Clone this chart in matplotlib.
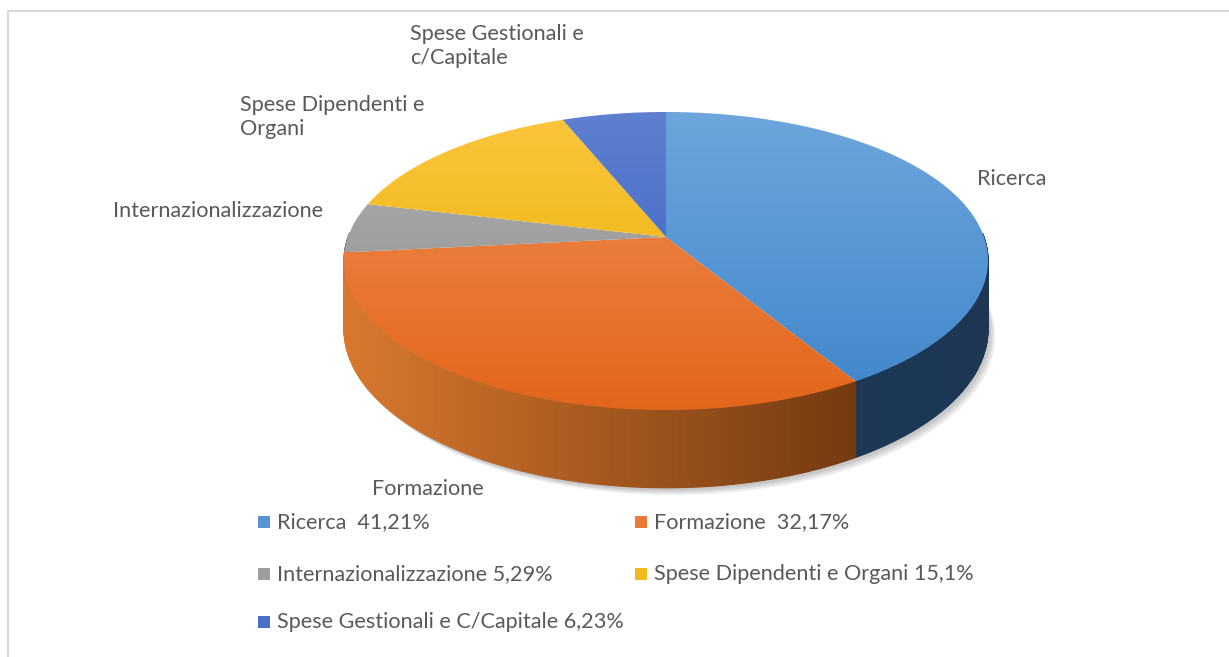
import numpy as np
import matplotlib.pyplot as plt
from matplotlib.patches import Polygon, Rectangle

# data
labels = ['Ricerca', 'Formazione', 'Internazionalizzazione',
          'Spese Dipendenti e Organi', 'Spese Gestionali e C/Capitale']
values = [41.21, 32.17, 5.29, 15.1, 6.23]
legend_texts = ['Ricerca  41,21%', 'Formazione  32,17%', 'Internazionalizzazione 5,29%',
                'Spese Dipendenti e Organi 15,1%', 'Spese Gestionali e C/Capitale 6,23%']
slice_labels = ['Ricerca', 'Formazione', 'Internazionalizzazione',
                'Spese Dipendenti e\nOrgani', 'Spese Gestionali e\nc/Capitale']

# top gradient (top colour, bottom colour), side colours (left, right)
top_cols = [('#6ea6dc', '#3f86cb'), ('#f08e55', '#e2661a'), ('#b0b0b0', '#8c8c8c'),
            ('#fcc63e', '#e6ae00'), ('#6080d0', '#2f5fbf')]
side_cols = [('#1f3c5c', '#1c3654'), ('#d8782e', '#5a2a08'), ('#7a7a7a', '#5a5a5a'),
             ('#b08000', '#8a6400'), ('#23457f', '#1c3566')]
txt_col = '#595959'
FONT = 'Lato'
FS = 15.6

# geometry of the 3D pie (pixels)
cx, cy = 666, 237
A, B, K = 318, 149, 0.161
DEPTH = 67


def rim(t):
    s = 1 - K * np.sin(t)
    return cx + A * s * np.cos(t), cy - B * s * np.sin(t), s


def hexrgb(h):
    h = h.lstrip('#')
    return np.array([int(h[i:i + 2], 16) / 255 for i in (0, 2, 4)])


fig = plt.figure(figsize=(12.29, 6.57), dpi=100)
ax = fig.add_axes([0, 0, 1, 1])
ax.set_xlim(0, 1229)
ax.set_ylim(657, 0)
ax.axis('off')

# frame
ax.plot([8, 8, 1229], [657, 11, 11], color='#d9d9d9', lw=1.5, zorder=0)

fracs = np.array(values) / sum(values)
starts = np.pi / 2 - 2 * np.pi * np.concatenate([[0], np.cumsum(fracs)[:-1]])
ends = starts - 2 * np.pi * fracs

# soft shadow under the rim
tt = np.linspace(np.pi * 0.02, -np.pi * 1.02, 200)
xs, ys, ss = rim(tt)
for w in [7, 5, 3]:
    px = np.concatenate([xs + w, xs[::-1]])
    py = np.concatenate([ys + ss * DEPTH + w, (ys + ss * DEPTH)[::-1] - 10])
    ax.add_patch(Polygon(np.column_stack([px, py]), closed=True, color='#000000',
                         alpha=0.08, lw=0, zorder=1))

# side strips
strips = []
for i in range(len(values)):
    n = max(int(abs(starts[i] - ends[i]) / 0.01), 2)
    t = np.linspace(starts[i], ends[i], n + 1)
    c0, c1 = hexrgb(side_cols[i][0]), hexrgb(side_cols[i][1])
    for j in range(n):
        ta, tb = t[j], t[j + 1]
        tm = 0.5 * (ta + tb)
        if np.sin(tm) > 0.03:
            continue
        xa, ya, sa = rim(ta)
        xb, yb, sb = rim(tb)
        f = np.clip((0.5 * (xa + xb) - 348) / (984 - 348), 0, 1)
        col = c0 * (1 - f) + c1 * f
        poly = [(xa, ya), (xb, yb), (xb, yb + sb * DEPTH), (xa, ya + sa * DEPTH)]
        strips.append((np.sin(tm), poly, col))
strips.sort(key=lambda s: -s[0])
for _, poly, col in strips:
    ax.add_patch(Polygon(poly, closed=True, facecolor=col, edgecolor=col, lw=0.8, zorder=2))

# top faces with vertical gradient
for i in range(len(values)):
    t = np.linspace(starts[i], ends[i], 200)
    xs, ys, _ = rim(t)
    px = np.concatenate([[cx], xs])
    py = np.concatenate([[cy], ys])
    patch = Polygon(np.column_stack([px, py]), closed=True, facecolor='none',
                    edgecolor='none', zorder=3)
    ax.add_patch(patch)
    y0, y1 = py.min(), py.max()
    c0, c1 = hexrgb(top_cols[i][0]), hexrgb(top_cols[i][1])
    g = np.linspace(0, 1, 256)[:, None, None]
    g0 = (y0 - 110) / 300
    g1 = (y1 - 110) / 300
    gg = g0 + (g1 - g0) * g
    img = np.clip(c0 * (1 - gg) + c1 * gg, 0, 1)
    im = ax.imshow(img, extent=(px.min(), px.max(), y1, y0), origin='upper',
                   aspect='auto', zorder=3, interpolation='bilinear')
    im.set_clip_path(patch)

# slice labels
lab_pos = [(977, 179), (372, 489), (113, 211), (240, 117), (410, 46)]
for lab, (x, y) in zip(slice_labels, lab_pos):
    ax.text(x, y, lab, fontsize=FS, color=txt_col, family=FONT, ha='left', va='center',
            linespacing=1.2, zorder=5)

# legend
rows = [522, 574, 622]
cols_x = [258, 635]
for k, txt in enumerate(legend_texts):
    r, c = k // 2, k % 2
    x, y = cols_x[c], rows[r]
    col = hexrgb(top_cols[k][0]) * 0.5 + hexrgb(top_cols[k][1]) * 0.5
    ax.add_patch(Rectangle((x, y - 6), 12, 12, facecolor=col, edgecolor='none', zorder=5))
    ax.text(x + 19, y, txt, fontsize=FS, color=txt_col, family=FONT, va='center', zorder=5)

ax.set_xlim(0, 1229)
ax.set_ylim(657, 0)
fig.savefig('out.png', dpi=100)
